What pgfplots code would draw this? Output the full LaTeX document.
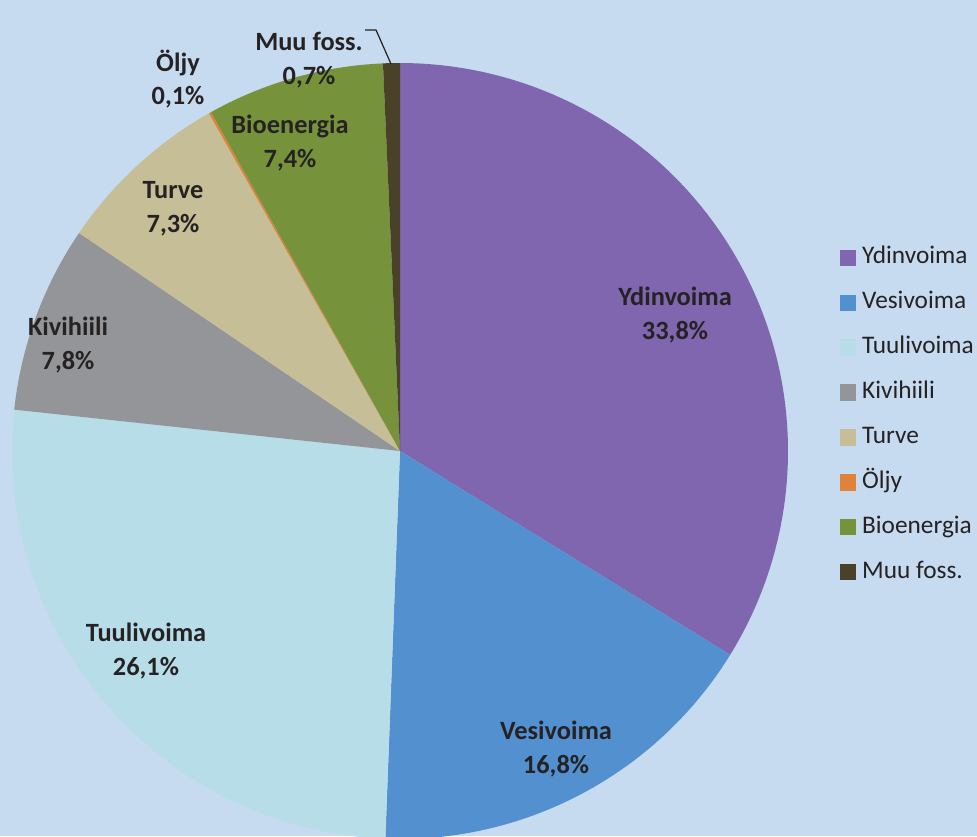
\documentclass[border=0pt]{standalone}
\usepackage{pgfplots}
\pgfplotsset{compat=1.18}
\usepackage{fontspec}
\setmainfont{Carlito}
\definecolor{bg}{HTML}{C6DBF0}
\definecolor{cYd}{HTML}{7F66AE}
\definecolor{cVe}{HTML}{5390D0}
\definecolor{cTu}{HTML}{B7DDE8}
\definecolor{cKi}{HTML}{939598}
\definecolor{cTv}{HTML}{C6BE97}
\definecolor{cOl}{HTML}{E0823A}
\definecolor{cBi}{HTML}{76933C}
\definecolor{cMu}{HTML}{4A4129}
\definecolor{txt}{HTML}{262223}
% slice: colour, cumulative start (%), value (%)
\newcommand{\slice}[3]{%
  \addplot[fill=#1, draw=none, domain={90-3.6*(#2+#3)}:{90-3.6*#2}, samples=80, variable=\t, forget plot]
    ({400+388*cos(\t)},{385+388*sin(\t)}) -- (axis cs:400,385) -- cycle;}
\newcommand{\lab}[3]{\node[align=center, text=txt, font=\fontsize{7.5pt}{9.6pt}\selectfont\bfseries, inner sep=0pt] at (axis cs:#1,#2) {#3};}
\begin{document}
\begin{tikzpicture}
\fill[bg] (0,0) rectangle (9.77cm,8.36cm);
\useasboundingbox (0,0) rectangle (9.77cm,8.36cm);
\begin{axis}[
  width=9.77cm, height=8.36cm, scale only axis,
  xmin=0, xmax=977, ymin=0, ymax=836,
  hide axis, clip=true,
  legend style={draw=none, fill=none, inner sep=0pt, at={(axis cs:839,421)}, anchor=west,
    font=\fontsize{7.2pt}{8pt}\selectfont, text=txt, row sep=2.49mm,
    nodes={inner xsep=0.6mm, inner ysep=0pt, text height=1.6mm, text depth=0.4mm}},
  legend cell align=left,
  legend image code/.code={\fill[#1] (0cm,-0.075cm) rectangle (0.15cm,0.075cm);},
]
\slice{cYd}{0}{33.8}
\slice{cVe}{33.8}{16.8}
\slice{cTu}{50.6}{26.1}
\slice{cKi}{76.7}{7.8}
\slice{cTv}{84.5}{7.3}
\slice{cOl}{91.8}{0.1}
\slice{cBi}{91.9}{7.4}
\slice{cMu}{99.3}{0.7}
\addlegendimage{cYd}\addlegendentry{Ydinvoima}
\addlegendimage{cVe}\addlegendentry{Vesivoima}
\addlegendimage{cTu}\addlegendentry{Tuulivoima}
\addlegendimage{cKi}\addlegendentry{Kivihiili}
\addlegendimage{cTv}\addlegendentry{Turve}
\addlegendimage{cOl}\addlegendentry{Öljy}
\addlegendimage{cBi}\addlegendentry{Bioenergia}
\addlegendimage{cMu}\addlegendentry{Muu foss.}
\addplot[txt, line width=0.35pt, forget plot] coordinates {(365,806) (376,806) (391,772)};
\lab{675}{521}{Ydinvoima\\33,8\%}
\lab{556}{87}{Vesivoima\\16,8\%}
\lab{146}{185}{Tuulivoima\\26,1\%}
\lab{68}{491}{Kivihiili\\7,8\%}
\lab{173}{627}{Turve\\7,3\%}
\lab{178}{757}{Öljy\\0,1\%}
\lab{290}{693}{Bioenergia\\7,4\%}
\lab{309}{776}{Muu foss.\\0,7\%}
\end{axis}
\end{tikzpicture}
\end{document}
